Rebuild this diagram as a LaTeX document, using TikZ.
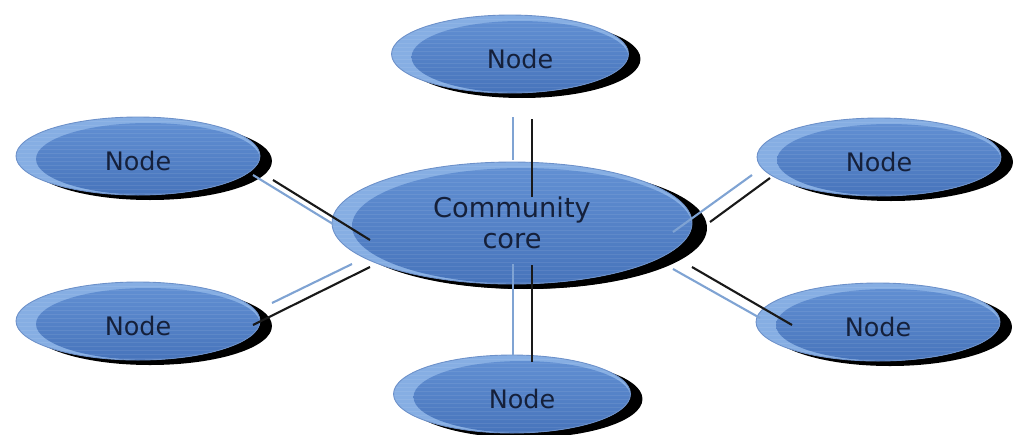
\documentclass[tikz,border=0pt]{standalone}
\usepackage{fontspec}
\setmainfont{DejaVu Sans}
\usetikzlibrary{shapes.geometric,shadows,calc}
\definecolor{rimblue}{HTML}{86AEE3}
\definecolor{bodytop}{HTML}{6391D4}
\definecolor{bodybot}{HTML}{4774BB}
\definecolor{linkblue}{HTML}{7FA3D3}
\definecolor{labelink}{HTML}{15203A}
\tikzset{
    blob-base/.style = {ellipse, fill=rimblue, draw=bodybot!80, line width=0.5pt, inner sep=0pt, text=labelink,
        general shadow={fill=black, shadow xshift=0.24cm, shadow yshift=-0.1cm},
        path picture={
            \fill[top color=bodytop, bottom color=bodybot]
                let \p1=(path picture bounding box.south west), \p2=(path picture bounding box.north east)
                in ($(\p1)!.5!(\p2)+(0.2cm,-0.06cm)$) ellipse ({(\x2-\x1)/2-0.2cm} and {(\y2-\y1)/2-0.06cm});
            \foreach \k in {1,...,32}
                \draw[white, opacity=.08, line width=.4pt] ([yshift=-\k*0.08cm]path picture bounding box.north west) -- ++(8cm,0);
        }},
    member-box/.style = {blob-base, minimum width=4.88cm, minimum height=1.56cm,
        font=\fontsize{14.5}{17}\selectfont, text height=16pt, text depth=0pt},
    member-narrow/.style = {member-box, minimum width=4.74cm,
        execute at begin node={\hspace*{0.4cm}}},
    core-box/.style = {blob-base, minimum width=7.2cm, minimum height=2.44cm, align=center,
        font=\fontsize{15.5}{17.5}\selectfont,
        general shadow={fill=black, shadow xshift=0.3cm, shadow yshift=-0.1cm}},
    link-blue/.style = {draw=linkblue, line width=1.2pt},
    link-black/.style = {draw=black!90, line width=1.2pt},
}

\begin{document}
\begin{tikzpicture}[x=0.02cm, y=-0.02cm]
\useasboundingbox (0,0) rectangle (1016,434);

% the core and its members
\node [core-box] (core) at (512,223) {Community\\core};
\node [member-narrow] (top) at (510,54) {Node};
\node [member-narrow] (bottom) at (512,394) {Node};
\node [member-box] (upleft) at (138,156) {Node};
\node [member-box] (lowleft) at (138,321) {Node};
\node [member-box] (upright) at (879,157) {Node};
\node [member-box] (lowright) at (878,322) {Node};

% double links
\draw [link-blue] ($(top)+(3,63)$) -- ($(core)+(1,-63)$);
\draw [link-black] ($(top)+(22,65)$) -- ($(core)+(20,-26)$);
\draw [link-blue] ($(core)+(1,41)$) -- ($(bottom)+(1,-39)$);
\draw [link-black] ($(core)+(20,42)$) -- ($(bottom)+(20,-32)$);
\draw [link-blue] ($(upleft)+(115,19)$) -- ($(core)+(-179,1)$);
\draw [link-black] ($(upleft)+(135,24)$) -- ($(core)+(-142,17)$);
\draw [link-blue] ($(core)+(-160,41)$) -- ($(lowleft)+(134,-18)$);
\draw [link-black] ($(core)+(-142,44)$) -- ($(lowleft)+(115,4)$);
\draw [link-blue] ($(upright)+(-127,18)$) -- ($(core)+(161,9)$);
\draw [link-black] ($(upright)+(-109,21)$) -- ($(core)+(198,-1)$);
\draw [link-blue] ($(core)+(161,46)$) -- ($(lowright)+(-118,-4)$);
\draw [link-black] ($(core)+(180,44)$) -- ($(lowright)+(-86,3)$);
\end{tikzpicture}
\end{document}
